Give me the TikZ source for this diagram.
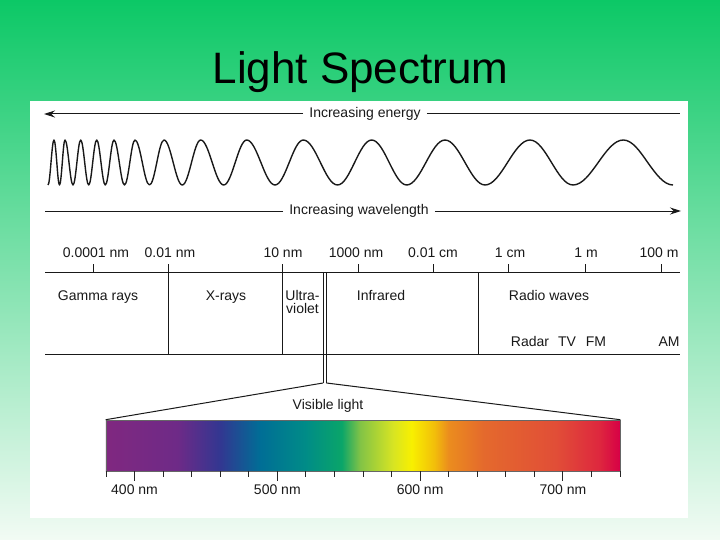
\documentclass[tikz,border=0pt]{standalone}
\usepackage{fontspec}
\setmainfont{Liberation Sans}
\usetikzlibrary{arrows.meta,positioning}
\usepackage{xcolor}

\definecolor{fondoArriba}{RGB}{12,200,102}
\definecolor{fondoAbajo}{RGB}{242,251,244}
% Colores del espectro visible
\definecolor{v380}{RGB}{128,40,128}
\definecolor{v430}{RGB}{110,42,135}
\definecolor{v460}{RGB}{50,55,145}
\definecolor{v488}{RGB}{0,110,150}
\definecolor{v520}{RGB}{0,140,135}
\definecolor{v545}{RGB}{10,165,105}
\definecolor{v558}{RGB}{130,195,70}
\definecolor{v581}{RGB}{215,228,35}
\definecolor{v594}{RGB}{248,240,0}
\definecolor{v610}{RGB}{242,190,10}
\definecolor{v620}{RGB}{235,140,30}
\definecolor{v645}{RGB}{228,105,45}
\definecolor{v695}{RGB}{225,78,55}
\definecolor{v725}{RGB}{222,40,62}
\definecolor{v740}{RGB}{215,0,70}
\pgfdeclarehorizontalshading{visible}{100bp}{color(0bp)=(v380); color(25bp)=(v380);
  color(31.94bp)=(v430); color(36.11bp)=(v460); color(40bp)=(v488);
  color(44.44bp)=(v520); color(47.92bp)=(v545); color(49.72bp)=(v558);
  color(52.92bp)=(v581); color(54.72bp)=(v594); color(56.94bp)=(v610);
  color(58.33bp)=(v620); color(61.81bp)=(v645); color(68.75bp)=(v695);
  color(72.92bp)=(v725); color(75bp)=(v740); color(100bp)=(v740)}

\begin{document}
\begin{tikzpicture}[x=1bp, y=-1bp]

    % Estilos
    \tikzstyle{etiqueta}=[inner sep=0pt, text=black!90, font=\fontsize{14bp}{15bp}\selectfont, text height=10bp, text depth=3bp]
    \tikzstyle{titulo}=[inner sep=0pt, anchor=base, font=\fontsize{44bp}{48bp}\selectfont]
    \tikzstyle{linea}=[line width=1pt, black!90]
    \tikzstyle{flecha}=[linea, -{Stealth[length=11bp, width=7bp]}]
    \tikzstyle{onda}=[line width=1.4pt, black!90, line join=round]
    \tikzstyle{barra}=[inner sep=0pt, minimum width=514bp, minimum height=51bp, shade, shading=visible, draw=black!60, line width=0.6pt]
    \tikzstyle{marca}=[line width=0.8pt, black!85]

    % Fondo y panel
    \useasboundingbox (0,0) rectangle (720,540);
    \shade[top color=fondoArriba, bottom color=fondoAbajo] (0,0) rectangle (720,540);
    \fill[white] (30,101) rectangle (688,518);

    \node[titulo] (titulo) at (360.5,84) {Light Spectrum};

    % Flechas de energia y longitud de onda
    \coordinate (eIzq) at (44,114);
    \coordinate (eDer) at (680,114);
    \node[etiqueta, inner xsep=6bp] (energia) at (365,114) {Increasing energy};
    \draw[flecha] (energia) -- (eIzq);
    \draw[linea] (energia) -- (eDer);

    \coordinate (lIzq) at (45,211);
    \coordinate (lDer) at (681,211);
    \node[etiqueta, inner xsep=6bp] (longitud) at (359,211) {Increasing wavelength};
    \draw[linea] (longitud) -- (lIzq);
    \draw[flecha] (longitud) -- (lDer);

    % Onda
    \draw[onda] (48,185) \foreach \a/\b/\c/\d in {51/54/56.8/59.5, 62.3/65/69/73,
        76.9/80.7/84.7/88.7, 92.7/96.7/101/105.3, 109.7/114/119.3/124.5,
        129.8/135/142.3/149.5, 156.8/164/173.2/182.3, 191.5/200.7/212.2/223.7,
        235.2/246.7/260.9/275, 289.2/303.3/320.4/337.5, 354.6/371.7/389.2/406.7,
        425.9/445/465/485, 507.5/530/551.5/573, 598.2/623.3/647.7/673}
        { cos (\a,162.5) sin (\b,140) cos (\c,162.5) sin (\d,185) };

    % Escala
    \draw[linea] (45,272) -- (680,272);
    \draw[linea] (45,354) -- (680,354);
    \foreach \x in {93,358,433,508,585,661}
        \draw[linea] (\x,264) -- (\x,272);
    \foreach \x in {168,282}
        \draw[linea] (\x,264) -- (\x,354);
    \draw[linea] (478,272) -- (478,354);
    \foreach \x/\texto [count=\i] in {96/0.0001 nm, 170/0.01 nm, 283/10 nm, 356/1000 nm,
        433/0.01 cm, 510/1 cm, 586/1 m, 659/100 m}
        \node[etiqueta] (escala\i) at (\x,254) {\texto};

    % Regiones
    \node[etiqueta] (gamma) at (98,297) {Gamma rays};
    \node[etiqueta] (rayosx) at (226,297) {X-rays};
    \node[etiqueta] (ultra) at (302.5,297) {Ultra-};
    \node[etiqueta] (violeta) at (302.5,310) {violet};
    \node[etiqueta] (infrarrojo) at (381,297) {Infrared};
    \node[etiqueta] (radio) at (549,297) {Radio waves};
    \node[etiqueta] (radar) at (530,343) {Radar};
    \node[etiqueta] (tv) at (567,343) {TV};
    \node[etiqueta] (fm) at (596,343) {FM};
    \node[etiqueta] (am) at (669,343) {AM};

    % Luz visible
    \coordinate (uvA) at (323,383);
    \coordinate (uvB) at (326.5,383);
    \draw[linea] (323,272) -- (uvA);
    \draw[linea] (326.5,272) -- (uvB);
    \node[barra] (barra) at (363,445.5) {};
    \draw[linea] (uvA) -- (barra.north west);
    \draw[linea] (uvB) -- (barra.north east);
    \node[etiqueta] (visible) at (328,406) {Visible light};

    \foreach \l in {380,400,...,740}
        \draw[marca] ({106+(\l-380)*1.42778},471) -- ++(0,6);
    \foreach \l in {400,500,600,700} {
        \draw[marca] ({106+(\l-380)*1.42778},471) -- ++(0,10);
        \node[etiqueta] (nm\l) at ({106+(\l-380)*1.42778},491) {\l\ nm};
    }
\end{tikzpicture}
\end{document}
